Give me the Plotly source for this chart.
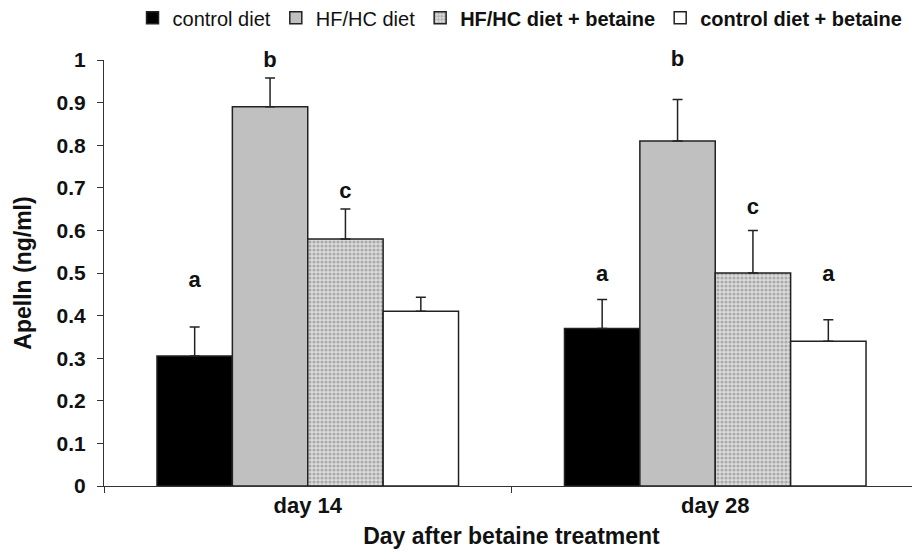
import plotly.graph_objects as go

days = ["day 14", "day 28"]
series_names = ["control diet", "HF/HC diet", "<b>HF/HC diet + betaine</b>", "<b>control diet + betaine</b>"]
control = [0.305, 0.37]
hfhc = [0.89, 0.81]
hfhc_bet = [0.58, 0.50]
control_bet = [0.41, 0.34]
err_control = [0.068, 0.068]
err_hfhc = [0.068, 0.097]
err_hfhc_bet = [0.07, 0.10]
err_control_bet = [0.033, 0.05]
letters_control = ["a", "a"]
letters_hfhc = ["b", "b"]
letters_hfhc_bet = ["c", "c"]
letters_control_bet = ["", "a"]
letter_y_control = [0.479, 0.495]
letter_y_hfhc = [0.996, 0.998]
letter_y_hfhc_bet = [0.69, 0.652]
letter_y_control_bet = [0.45, 0.495]

values = [control, hfhc, hfhc_bet, control_bet]
errors = [err_control, err_hfhc, err_hfhc_bet, err_control_bet]
letters = [letters_control, letters_hfhc, letters_hfhc_bet, letters_control_bet]
letter_ys = [letter_y_control, letter_y_hfhc, letter_y_hfhc_bet, letter_y_control_bet]
fills = ["#000000", "#c0c0c0", "#d0d0d0", "#ffffff"]

FONT = "Liberation Sans, Arial, sans-serif"
fig = go.Figure()
for i in range(4):
    marker = dict(color=fills[i], line=dict(color="#222222", width=1.5))
    if i == 2:
        marker["pattern"] = dict(shape=".", fgcolor="#777777", bgcolor="#dcdcdc", size=4, solidity=0.5)
    fig.add_trace(go.Bar(
        x=days, y=values[i], name=series_names[i], offsetgroup=str(i),
        marker=marker,
        error_y=dict(type="data", array=errors[i], arrayminus=[0, 0], symmetric=False,
                     color="#222222", thickness=1.5, width=5),
    ))
for i in range(4):
    fig.add_trace(go.Scatter(
        x=days, y=letter_ys[i],
        mode="text", text=["<b>%s</b>" % t if t else "" for t in letters[i]],
        offsetgroup=str(i), showlegend=False,
        textfont=dict(family=FONT, size=22, color="#111111"), textposition="middle center",
        hoverinfo="skip", cliponaxis=False,
    ))

fig.update_layout(
    width=912, height=543,
    margin=dict(l=96, r=1, t=52, b=65, autoexpand=False),
    barmode="group", bargap=0.26, bargroupgap=0,
    scattermode="group", scattergap=0.26,
    plot_bgcolor="white", paper_bgcolor="white",
    font=dict(family=FONT, color="#111111"),
    legend=dict(orientation="h", x=0.035, xanchor="left", y=1.099, yanchor="middle",
                font=dict(size=20, family=FONT), itemwidth=30, tracegroupgap=0,
                bgcolor="rgba(0,0,0,0)"),
    showlegend=True,
)
fig.update_yaxes(range=[0, 1], dtick=0.1, tickformat="~g", showgrid=False, zeroline=False,
                 showline=True, linecolor="#333333", linewidth=1, ticks="outside", ticklen=6,
                 tickcolor="#333333", tickfont=dict(size=21, family=FONT), ticklabelstandoff=7,
                 title=dict(text="<b>Apelln (ng/ml)</b>", font=dict(size=23, family=FONT), standoff=18),
                 tickprefix="<b>", ticksuffix="</b>")
fig.update_xaxes(showgrid=False, showline=True, linecolor="#333333", linewidth=1,
                 ticks="outside", ticklen=6, tickcolor="#333333", tickson="boundaries",
                 tickfont=dict(size=22, family=FONT), tickprefix="<b>", ticksuffix="</b>",
                 title=dict(text="<b>Day after betaine treatment</b>", font=dict(size=23, family=FONT), standoff=10))
fig.write_html("out.html")
